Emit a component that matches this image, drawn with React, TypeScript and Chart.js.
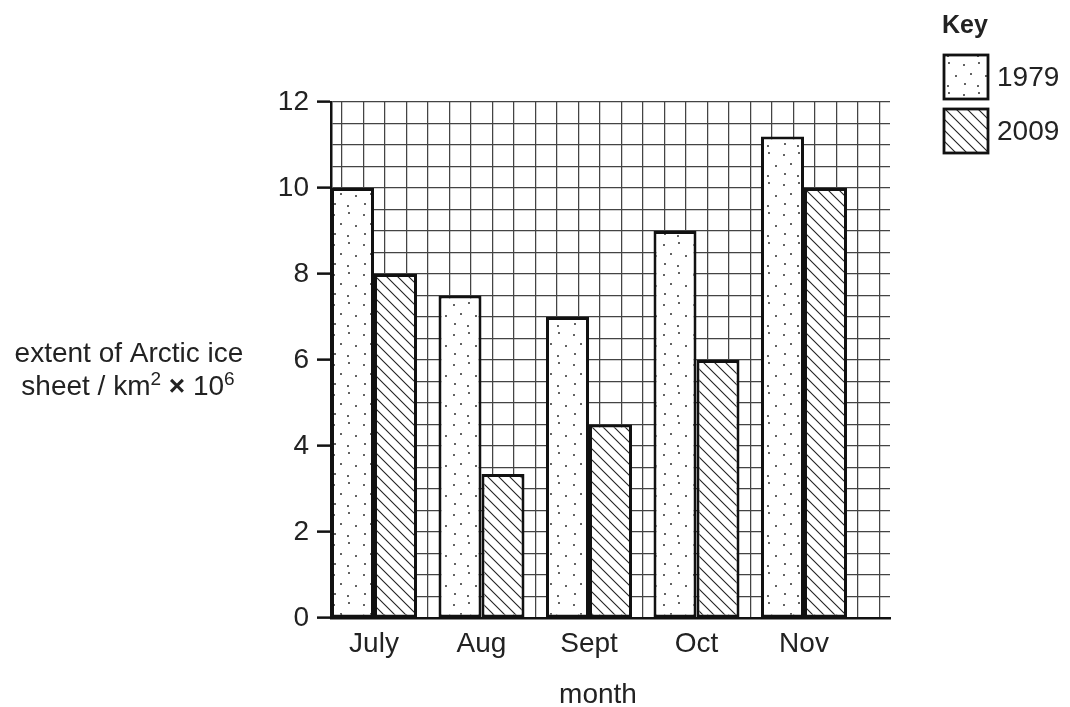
import React, { useEffect, useRef } from 'react';
import { Chart, registerables } from 'chart.js';

Chart.register(...registerables);

// ---- data ----
const months = ['July', 'Aug', 'Sept', 'Oct', 'Nov'];
const ice1979 = [10, 7.5, 7, 9, 11.2];
const ice2009 = [8, 3.35, 4.5, 6, 10];
const seriesLabels = ['1979', '2009'];
const yTickLabels = ['0', '2', '4', '6', '8', '10', '12'];
const yTitleLine1 = 'extent of Arctic ice';
const xTitle = 'month';
const keyTitle = 'Key';

// ---- layout constants (grid squares) ----
const GROUP = 5; // squares per month group
const FIRST_CENTER = 2; // centre of first group in squares
const TOTAL_SQUARES = 26;
const Y_MAX = 12;
const FONT = '"Liberation Sans", Arial, sans-serif';
const INK = '#222';
const FS = 28;

function makeDotPattern(): CanvasPattern | string {
  const s = 30;
  const c = document.createElement('canvas');
  c.width = s;
  c.height = s;
  const g = c.getContext('2d');
  if (!g) return '#fff';
  g.fillStyle = '#fff';
  g.fillRect(0, 0, s, s);
  g.fillStyle = '#222';
  const dots = [
    [4, 5], [19, 3], [11, 14], [26, 16], [5, 24], [18, 26],
  ];
  dots.forEach(([x, y]) => {
    g.beginPath();
    g.arc(x, y, 0.95, 0, Math.PI * 2);
    g.fill();
  });
  return g.createPattern(c, 'repeat') || '#fff';
}

function makeHatchPattern(): CanvasPattern | string {
  const s = 11;
  const c = document.createElement('canvas');
  c.width = s;
  c.height = s;
  const g = c.getContext('2d');
  if (!g) return '#fff';
  g.fillStyle = '#fff';
  g.fillRect(0, 0, s, s);
  g.strokeStyle = '#222';
  g.lineWidth = 1.1;
  g.beginPath();
  g.moveTo(-1, -1);
  g.lineTo(s + 1, s + 1);
  g.moveTo(-1, s - 1);
  g.lineTo(1, s + 1);
  g.moveTo(s - 1, -1);
  g.lineTo(s + 1, 1);
  g.stroke();
  return g.createPattern(c, 'repeat') || '#fff';
}

export default function App() {
  const ref = useRef<HTMLCanvasElement | null>(null);

  useEffect(() => {
    const canvas = ref.current;
    if (!canvas) return;
    const dots = makeDotPattern();
    const hatch = makeHatchPattern();
    const fills = [dots, hatch];

    const textPlugin = {
      id: 'extraText',
      afterDraw(chart: any) {
        const ctx = chart.ctx as CanvasRenderingContext2D;
        ctx.save();
        ctx.fillStyle = INK;
        ctx.textBaseline = 'alphabetic';
        // y-axis title (horizontal, two lines)
        ctx.font = `${FS}px ${FONT}`;
        ctx.textAlign = 'center';
        const cx = 129;
        ctx.fillText(yTitleLine1, cx, 362);
        const parts: { t: string; font: string; dy: number }[] = [
          { t: 'sheet / km', font: `${FS}px ${FONT}`, dy: 0 },
          { t: '2', font: `19px ${FONT}`, dy: -10 },
          { t: ' ', font: `${FS}px ${FONT}`, dy: 0 },
          { t: '×', font: `bold ${FS}px ${FONT}`, dy: 0 },
          { t: ' 10', font: `${FS}px ${FONT}`, dy: 0 },
          { t: '6', font: `19px ${FONT}`, dy: -10 },
        ];
        let total = 0;
        parts.forEach((p) => {
          ctx.font = p.font;
          total += ctx.measureText(p.t).width;
        });
        let x = 128 - total / 2;
        ctx.textAlign = 'left';
        parts.forEach((p) => {
          ctx.font = p.font;
          ctx.fillText(p.t, x, 395 + p.dy);
          x += ctx.measureText(p.t).width;
        });

        // x-axis title
        ctx.textAlign = 'center';
        ctx.font = `${FS}px ${FONT}`;
        ctx.fillText(xTitle, 598, 703);

        // key
        ctx.textAlign = 'left';
        ctx.font = `bold 25px ${FONT}`;
        ctx.fillText(keyTitle, 942, 33);
        const boxX = 944;
        const boxSize = 44;
        const boxYs = [55, 109];
        seriesLabels.forEach((lab, i) => {
          const by = boxYs[i];
          ctx.fillStyle = fills[i] as any;
          ctx.fillRect(boxX, by, boxSize, boxSize);
          ctx.strokeStyle = '#111';
          ctx.lineWidth = 2.8;
          ctx.strokeRect(boxX, by, boxSize, boxSize);
          ctx.fillStyle = INK;
          ctx.font = `${FS}px ${FONT}`;
          ctx.textBaseline = 'middle';
          ctx.fillText(lab, 997, by + boxSize / 2 + 1);
          ctx.textBaseline = 'alphabetic';
        });
        ctx.restore();
      },
    };

    const chart = new Chart(canvas, {
      type: 'bar',
      data: {
        datasets: [ice1979, ice2009].map((vals, si) => ({
          label: seriesLabels[si],
          data: months.map((_, i) => ({ x: FIRST_CENTER + i * GROUP, y: vals[i] })),
          backgroundColor: fills[si] as any,
          borderColor: '#111',
          borderWidth: 3,
          borderSkipped: false,
          categoryPercentage: 0.8,
          barPercentage: 1.0,
          xAxisID: 'x',
          yAxisID: 'y',
        })),
      },
      options: {
        responsive: false,
        animation: false,
        events: [],
        layout: { padding: { left: 0, right: 180, top: 102, bottom: 0 } },
        plugins: {
          legend: { display: false },
          tooltip: { enabled: false },
        },
        scales: {
          x: {
            type: 'linear',
            position: 'bottom',
            offset: false,
            min: 0,
            max: TOTAL_SQUARES,
            afterBuildTicks: (axis: any) => {
              axis.ticks = months.map((_, i) => ({ value: FIRST_CENTER + i * GROUP }));
            },
            afterFit: (axis: any) => {
              axis.height = 89;
            },
            grid: { display: false, drawTicks: false },
            border: { display: true, color: '#111', width: 2.5 },
            ticks: {
              autoSkip: false,
              maxRotation: 0,
              padding: 9,
              color: INK,
              font: { family: FONT, size: FS },
              callback: (v: any) => {
                const i = (Number(v) - FIRST_CENTER) / GROUP;
                return months[i] ?? '';
              },
            },
          },
          xg: {
            type: 'linear',
            position: 'top',
            offset: false,
            min: 0,
            max: TOTAL_SQUARES,
            afterFit: (axis: any) => {
              axis.height = 0;
            },
            ticks: { display: false, stepSize: 1, autoSkip: false },
            grid: { color: '#444', lineWidth: 1.25, drawTicks: false },
            border: { display: false },
          },
          y: {
            type: 'linear',
            position: 'left',
            min: 0,
            max: Y_MAX,
            afterFit: (axis: any) => {
              axis.width = 331;
            },
            ticks: {
              stepSize: 0.5,
              autoSkip: false,
              padding: 8,
              color: INK,
              font: { family: FONT, size: FS },
              callback: (v: any) => (yTickLabels.includes(String(v)) ? String(v) : ''),
            },
            grid: {
              color: '#444',
              lineWidth: 1.25,
              tickLength: 14,
              tickColor: (c: any) =>
                c.tick && yTickLabels.includes(String(c.tick.value)) ? '#111' : 'rgba(0,0,0,0)',
              tickWidth: 2.5,
            },
            border: { display: true, color: '#111', width: 2.5 },
          },
        },
      },
      plugins: [textPlugin],
    } as any);

    return () => chart.destroy();
  }, []);

  return (
    <div style={{ position: 'absolute', left: 0, top: 0, width: 1070, height: 707, background: '#fff' }}>
      <canvas ref={ref} width={1070} height={707} style={{ display: 'block' }} />
    </div>
  );
}
